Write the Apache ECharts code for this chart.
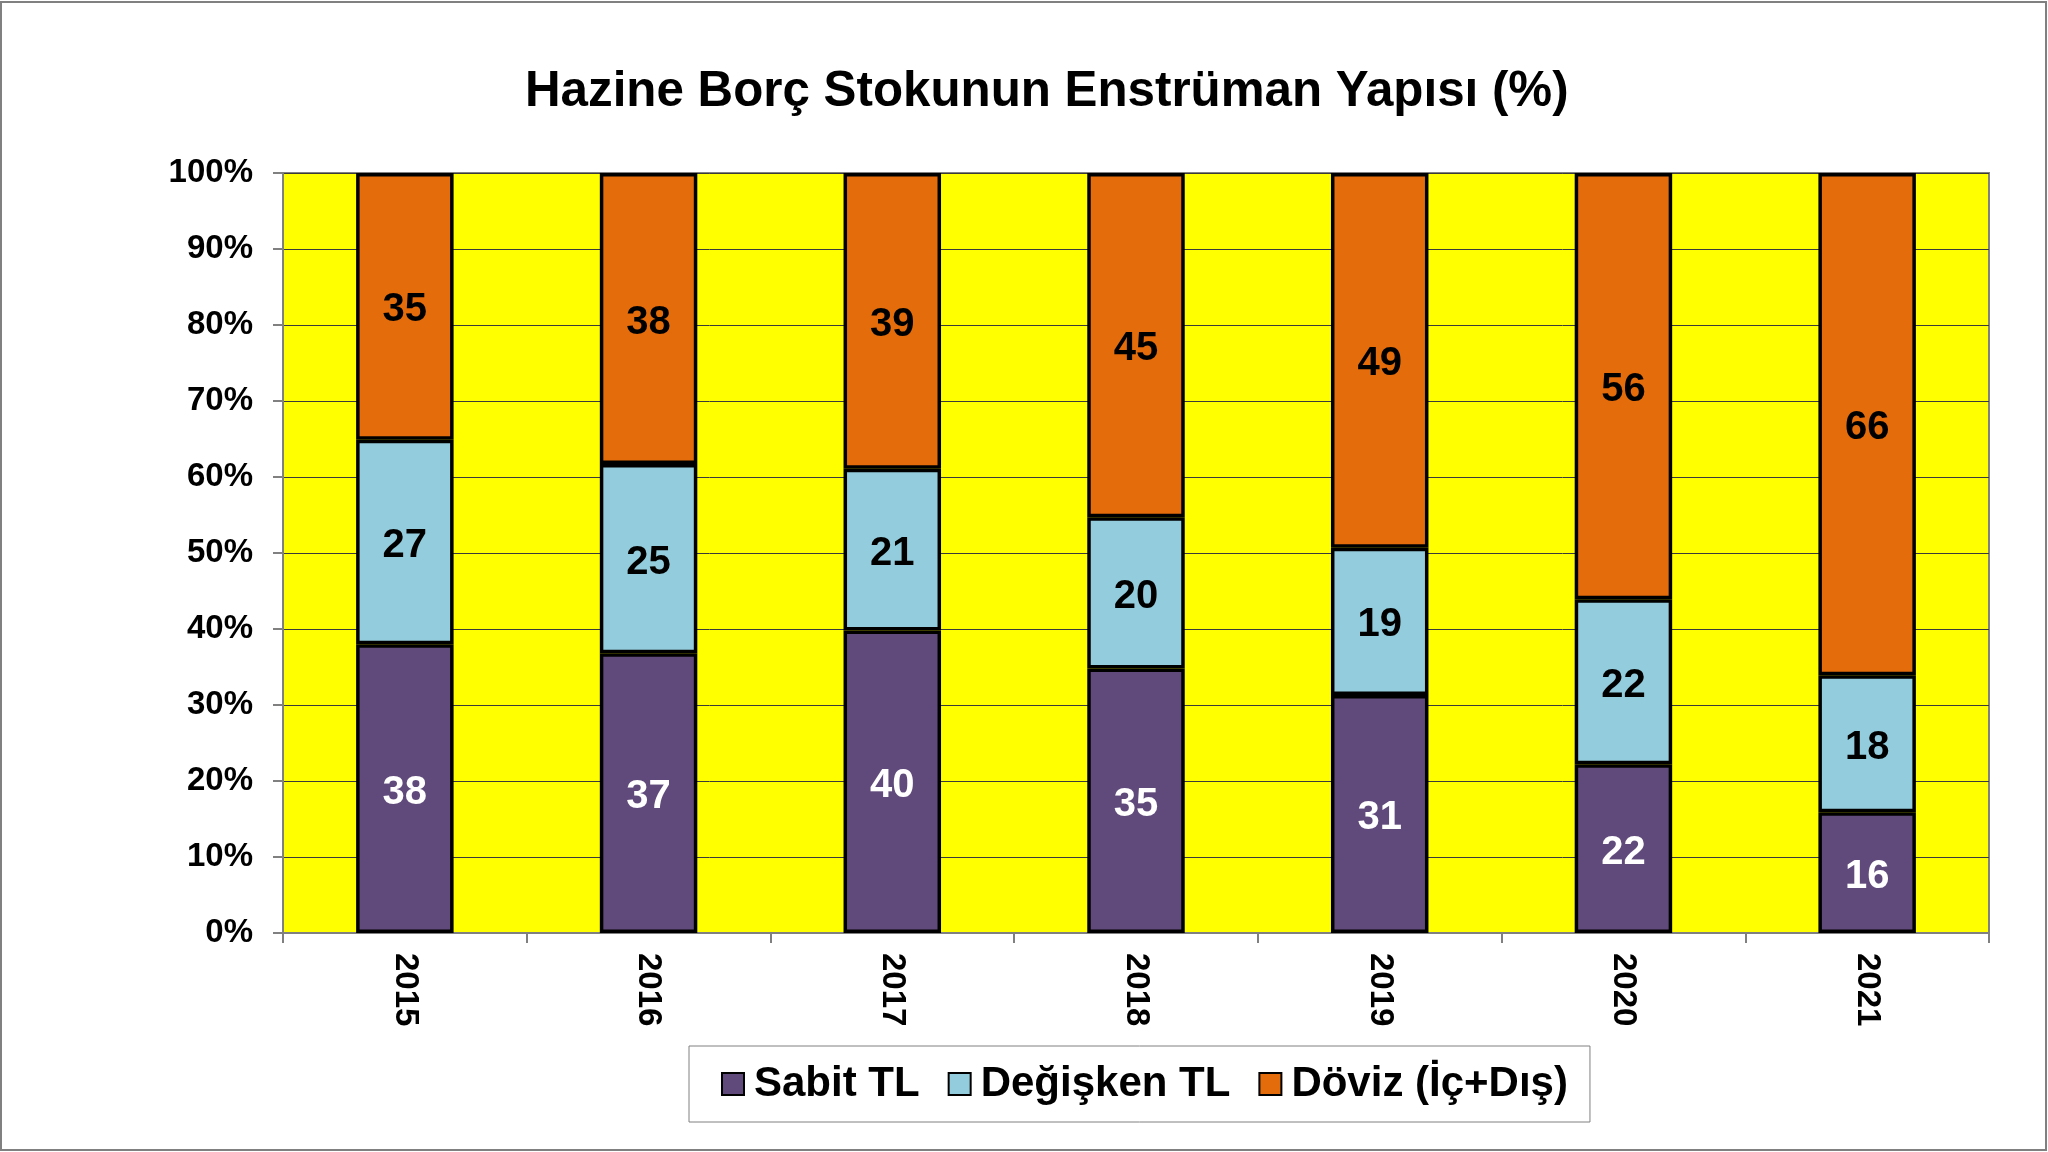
<!DOCTYPE html>
<html>
<head>
<meta charset="utf-8">
<script src="https://cdn.jsdelivr.net/npm/echarts@6/dist/echarts.min.js"></script>
<style>
  html, body { margin: 0; padding: 0; background: #fff; }
  #chart { width: 2048px; height: 1152px; }
</style>
</head>
<body>
<div id="chart"></div>
<script>
// years and shares (%)
var years = ["2015", "2016", "2017", "2018", "2019", "2020", "2021"];
var sabitTL = [38.0, 36.8, 39.8, 34.8, 31.3, 22.2, 15.9];
var degiskenTL = [26.9, 24.9, 21.3, 19.9, 19.4, 21.7, 18.0];
var doviz = [35.1, 38.3, 38.9, 45.3, 49.3, 56.1, 66.1];
var seriesNames = ["Sabit TL", "Değişken TL", "Döviz (İç+Dış)"];
var yTicks = { min: 0, max: 100, step: 10 };

var FONT = "Liberation Sans, Arial, sans-serif";
var chart = echarts.init(document.getElementById("chart"));

function barSeries(name, data, color, labelColor) {
  return {
    name: name,
    type: "bar",
    stack: "total",
    barWidth: "40%",
    data: data,
    itemStyle: { color: color, borderColor: "#000", borderWidth: 3.5 },
    label: {
      show: true,
      position: "inside",
      offset: [0, 4],
      color: labelColor,
      fontFamily: FONT,
      fontWeight: "bold",
      fontSize: 40,
      formatter: function (p) { return Math.round(p.value); }
    }
  };
}

chart.setOption({
  animation: false,
  backgroundColor: "#fff",
  title: {
    text: "Hazine Borç Stokunun Enstrüman Yapısı (%)",
    left: 520,
    top: 63,
    textStyle: { fontFamily: FONT, fontWeight: "bold", fontSize: 49.3, color: "#000" }
  },
  graphic: [{
    type: "rect",
    shape: { x: 1, y: 2, width: 2045, height: 1148 },
    style: { fill: "none", stroke: "#808080", lineWidth: 2 },
    silent: true
  }],
  legend: {
    left: 689,
    top: 1046,
    orient: "horizontal",
    icon: "rect",
    itemWidth: 22,
    itemHeight: 22,
    itemGap: 28,
    padding: [17, 22, 17, 32],
    borderColor: "#808080",
    borderWidth: 1,
    data: seriesNames,
    textStyle: { fontFamily: FONT, fontWeight: "bold", fontSize: 42, color: "#000", padding: [0, 0, 0, 5] }
  },
  grid: {
    left: 283,
    right: 59,
    top: 173,
    bottom: 219,
    show: true,
    backgroundColor: "#FFFF00",
    borderColor: "#808080",
    borderWidth: 2
  },
  xAxis: {
    type: "category",
    data: years,
    axisLine: { lineStyle: { color: "#808080", width: 2 } },
    axisTick: { show: true, length: 10, lineStyle: { color: "#808080", width: 2 } },
    axisLabel: {
      rotate: -90,
      margin: 20,
      color: "#000",
      fontFamily: FONT,
      fontWeight: "bold",
      fontSize: 33
    }
  },
  yAxis: {
    type: "value",
    min: yTicks.min,
    max: yTicks.max,
    interval: yTicks.step,
    axisLine: { show: true, lineStyle: { color: "#808080", width: 2 } },
    axisTick: { show: true, length: 10, lineStyle: { color: "#808080", width: 2 } },
    splitLine: { show: true, lineStyle: { color: "#3a3a3a", width: 1 } },
    axisLabel: {
      margin: 30,
      color: "#000",
      fontFamily: FONT,
      fontWeight: "bold",
      fontSize: 33,
      formatter: "{value}%"
    }
  },
  series: [
    barSeries(seriesNames[0], sabitTL, "#604A7B", "#fff"),
    barSeries(seriesNames[1], degiskenTL, "#93CDDD", "#000"),
    barSeries(seriesNames[2], doviz, "#E46C0A", "#000")
  ]
});
</script>
</body>
</html>
